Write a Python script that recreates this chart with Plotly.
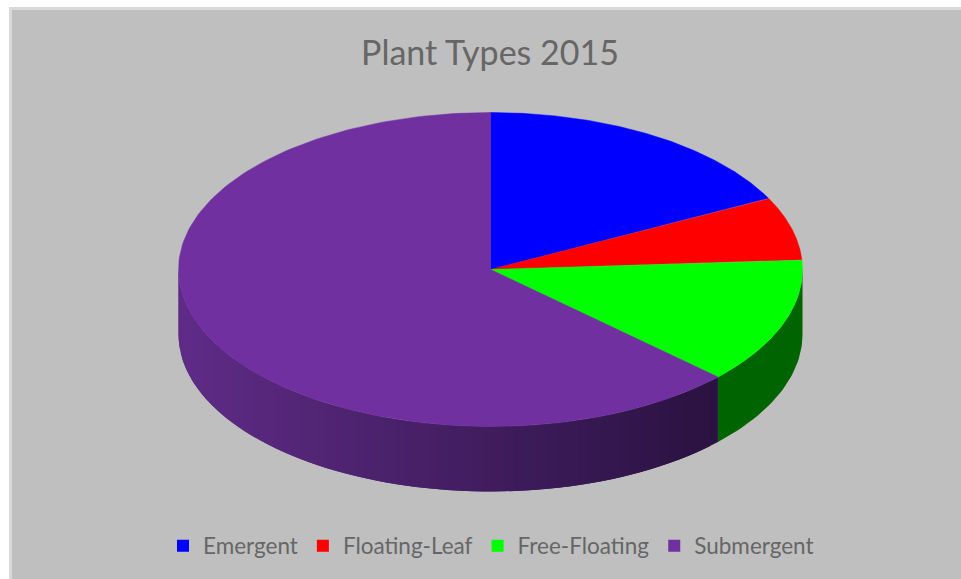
import numpy as np
import plotly.graph_objects as go

categories = ["Emergent", "Floating-Leaf", "Free-Floating", "Submergent"]
shares = [17.5, 6.5, 13.0, 63.0]
top_colors = ["#0000ff", "#ff0000", "#00ff00", "#7030a0"]
side_dark = ["#000080", "#800000", "#006400", "#2a1240"]
side_light = ["#000080", "#800000", "#006400", "#5f2b87"]
title_text = "Plant Types 2015"

CX, CY, RX, RY, DEPTH = 490.5, 269.5, 312, 157, 65
W, H = 961, 579


def ell(theta):
    return CX + RX * np.sin(theta), CY - RY * np.cos(theta)


def mix(a, b, t):
    a = [int(a[i:i + 2], 16) for i in (1, 3, 5)]
    b = [int(b[i:i + 2], 16) for i in (1, 3, 5)]
    return "rgb(%d,%d,%d)" % tuple(round(p + (q - p) * t) for p, q in zip(a, b))


edges = np.concatenate([[0], np.cumsum(shares)]) / sum(shares) * 2 * np.pi
fig = go.Figure()

# side wall: only the front half of the rim (pi/2 .. 3pi/2) is visible
for i in range(len(categories)):
    lo, hi = max(edges[i], np.pi / 2), min(edges[i + 1], 3 * np.pi / 2)
    if hi <= lo:
        continue
    n = 1 if side_dark[i] == side_light[i] else max(1, int((hi - lo) / (np.pi / 90)))
    cuts = np.linspace(lo, hi, n + 1)
    for k in range(n):
        # each strip runs on under the next one, so no seams show between them
        t = np.linspace(cuts[k], cuts[min(k + 2, n)], 40)
        x, y = ell(t)
        xs = np.concatenate([x, x[::-1]])
        ys = np.concatenate([y, y[::-1] + DEPTH])
        mid_x = ell((cuts[k] + cuts[k + 1]) / 2)[0]
        f = np.clip((CX + 228 - mid_x) / (228 + RX), 0, 1)
        col = mix(side_dark[i], side_light[i], f)
        fig.add_trace(go.Scatter(x=xs, y=ys, mode="lines", fill="toself", fillcolor=col,
                                 line=dict(width=0), showlegend=False, hoverinfo="skip"))

# top face
for i, name in enumerate(categories):
    t = np.linspace(edges[i], edges[i + 1], 200)
    x, y = ell(t)
    fig.add_trace(go.Scatter(x=np.r_[CX, x, CX], y=np.r_[CY, y, CY], mode="lines", fill="toself",
                             fillcolor=top_colors[i], line=dict(color=top_colors[i], width=0.5),
                             showlegend=False, name=name, hoverinfo="name"))

# legend entries
for name, col in zip(categories, top_colors):
    fig.add_trace(go.Scatter(x=[None], y=[None], mode="markers", name=name,
                             marker=dict(symbol="square", size=12, color=col)))

fig.update_layout(
    width=W, height=H, autosize=False,
    margin=dict(l=0, r=0, t=0, b=0),
    paper_bgcolor="#ffffff", plot_bgcolor="rgba(0,0,0,0)",
    xaxis=dict(range=[0, W], visible=False, fixedrange=True),
    yaxis=dict(range=[H, 0], visible=False, fixedrange=True),
    title=dict(text=title_text, x=490 / W, xanchor="center", y=1 - 53 / H, yanchor="middle",
               font=dict(family="Lato", size=34, color="#666666")),
    legend=dict(orientation="h", x=491 / W, xanchor="center", y=1 - 546 / H, yanchor="middle",
                bgcolor="rgba(0,0,0,0)", font=dict(family="Lato", size=22.5, color="#666666"),
                itemsizing="constant", itemwidth=30),
    shapes=[dict(type="rect", xref="x", yref="y", x0=10.5, y0=8.5, x1=W + 5, y1=H + 5, layer="below",
                 fillcolor="#bfbfbf", line=dict(color="#d9d9d9", width=3))],
)
fig.write_html("out.html", config=dict(displayModeBar=False),
               post_script="document.documentElement.style.overflow='hidden';document.body.style.margin='0';")
